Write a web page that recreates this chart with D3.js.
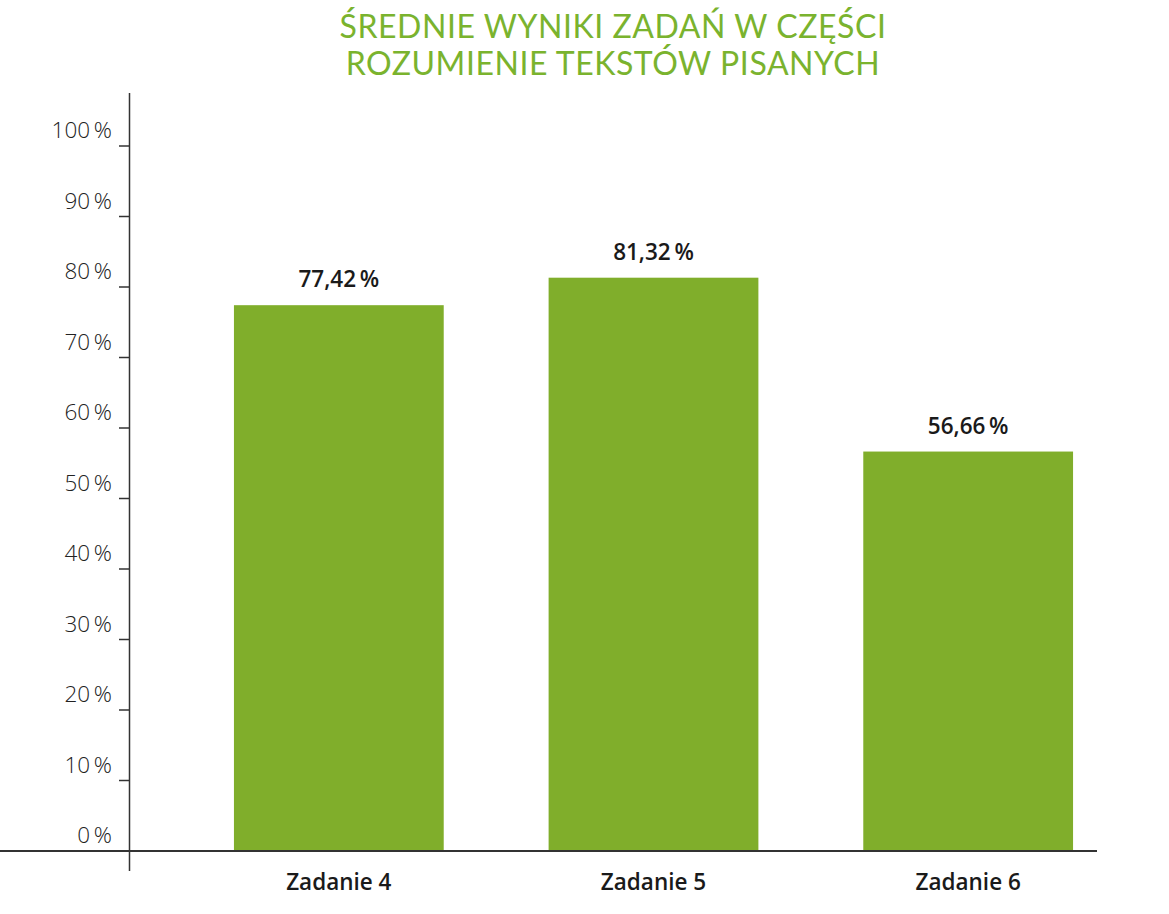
<!DOCTYPE html>
<html><head><meta charset="utf-8">
<script src="https://cdn.jsdelivr.net/npm/d3@7"></script>
<style>body{margin:0;background:#fff;} svg{display:block;}</style>
</head><body>
<svg id="c" width="1169" height="914"></svg>
<script>
const categories = ["Zadanie 4", "Zadanie 5", "Zadanie 6"];
const values = [77.42, 81.32, 56.66];
const valueLabels = ["77,42\u2009%", "81,32\u2009%", "56,66\u2009%"];
const yTicks = [0,10,20,30,40,50,60,70,80,90,100];
const titleLines = ["ŚREDNIE WYNIKI ZADAŃ W CZĘŚCI", "ROZUMIENIE TEKSTÓW PISANYCH"];

const svg = d3.select("#c");
const green = "#80ae2b";
const y = d3.scaleLinear().domain([0,100]).range([851,146]);
const x = d3.scaleBand().domain(categories).range([181.5,1125.5]).paddingInner(1/3).paddingOuter(1/6);

svg.append("g").selectAll("text").data(titleLines).join("text")
  .attr("x", 613).attr("y", (d,i)=>38+i*37)
  .attr("text-anchor","middle")
  .attr("font-family","Lato, 'Open Sans', sans-serif").attr("font-weight",400)
  .attr("font-size",32).attr("fill","#7ab32e").attr("letter-spacing",0.55)
  .text(d=>d);

svg.append("g").selectAll("rect").data(values).join("rect")
  .attr("x",(d,i)=>x(categories[i])).attr("width",x.bandwidth())
  .attr("y",d=>y(d)).attr("height",d=>y(0)-y(d)).attr("fill",green);

svg.append("g").selectAll("text").data(values).join("text")
  .attr("x",(d,i)=>x(categories[i])+x.bandwidth()/2)
  .attr("y",d=>y(d)-18)
  .attr("text-anchor","middle")
  .attr("font-family","'Open Sans', sans-serif").attr("font-weight",600)
  .attr("font-size",22.5).attr("fill","#1a1a1a")
  .text((d,i)=>valueLabels[i]);

// y axis
svg.append("line").attr("x1",129.5).attr("x2",129.5).attr("y1",93).attr("y2",871)
  .attr("stroke","#333").attr("stroke-width",1.5);
const yt = svg.append("g");
yt.selectAll("line").data(yTicks.filter(t=>t>0)).join("line")
  .attr("x1",119).attr("x2",129).attr("y1",d=>y(d)).attr("y2",d=>y(d))
  .attr("stroke","#333").attr("stroke-width",1.5);
yt.selectAll("text").data(yTicks).join("text")
  .attr("x",112).attr("y",d=>y(d)-8)
  .attr("text-anchor","end")
  .attr("font-family","'Open Sans', sans-serif").attr("font-weight",300)
  .attr("font-size",22.5).attr("fill","#222")
  .text(d=>d+"\u2009%");

// x axis
svg.append("line").attr("x1",0).attr("x2",1097).attr("y1",y(0)).attr("y2",y(0))
  .attr("stroke","#333").attr("stroke-width",2);
svg.append("g").selectAll("text").data(categories).join("text")
  .attr("x",d=>x(d)+x.bandwidth()/2).attr("y",890)
  .attr("text-anchor","middle")
  .attr("font-family","'Open Sans', sans-serif").attr("font-weight",600)
  .attr("font-size",22.5).attr("fill","#1a1a1a")
  .text(d=>d);
</script>
</body></html>
